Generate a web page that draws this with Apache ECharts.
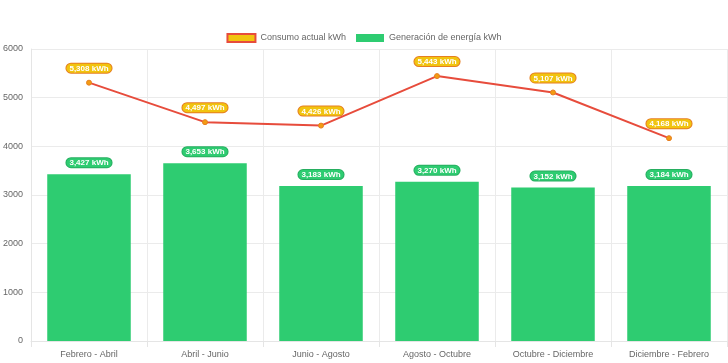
<!DOCTYPE html>
<html><head><meta charset="utf-8">
<script src="https://cdn.jsdelivr.net/npm/echarts@6/dist/echarts.min.js"></script>
<style>html,body{margin:0;padding:0;background:#fff}#c{width:728px;height:363px}</style>
</head><body><div id="c"></div>
<script>
const categories = ['Febrero - Abril','Abril - Junio','Junio - Agosto','Agosto - Octubre','Octubre - Diciembre','Diciembre - Febrero'];
const consumo = [5308, 4497, 4426, 5443, 5107, 4168];
const generacion = [3427, 3653, 3183, 3270, 3152, 3184];
const yTicks = [0, 1000, 2000, 3000, 4000, 5000, 6000];

const fmt = v => v.toLocaleString('en-US') + ' kWh';
const font = 'Liberation Sans, Arial, sans-serif';
const chart = echarts.init(document.getElementById('c'), null, {renderer:'canvas'});
chart.setOption({
  animation: false,
  textStyle: {fontFamily: font},
  legend: {
    top: 28, left: 'center', itemWidth: 28, itemHeight: 8, itemGap: 10,
    textStyle: {color: '#666', fontSize: 9, fontFamily: font},
    data: [
      {name: 'Consumo actual kWh', icon: 'rect', itemStyle: {color: '#f1c40f', borderColor: '#e74c3c', borderWidth: 2}},
      {name: 'Generación de energía kWh', icon: 'rect', itemStyle: {color: '#2ecc71'}}
    ]
  },
  grid: {left: 31, right: 1, top: 49, bottom: 22, containLabel: false, outerBoundsMode: 'none'},
  xAxis: {
    type: 'category', data: categories, boundaryGap: true,
    axisLine: {lineStyle: {color: '#e5e5e5'}},
    axisTick: {show: true, length: 6, interval: 0, lineStyle: {color: '#e5e5e5'}},
    splitLine: {show: true, interval: 0, lineStyle: {color: '#ebebeb'}},
    axisLabel: {color: '#666', fontSize: 9, margin: 9, interval: 0, fontFamily: font}
  },
  yAxis: {
    type: 'value', min: yTicks[0], max: yTicks[yTicks.length-1], interval: 1000,
    axisLine: {show: true, lineStyle: {color: '#e5e5e5'}},
    axisTick: {show: false},
    splitLine: {lineStyle: {color: '#ebebeb'}},
    axisLabel: {color: '#666', fontSize: 9, margin: 8, fontFamily: font, formatter: v => String(v)}
  },
  series: [
    {
      name: 'Generación de energía kWh', type: 'bar', data: generacion,
      barWidth: '72%', itemStyle: {color: '#2ecc71'}, z: 2,
      label: {
        show: true, position: 'top', distance: 7, formatter: p => fmt(p.value),
        color: '#fff', fontWeight: 'bold', fontSize: 8, fontFamily: font,
        backgroundColor: '#2ecc71', borderColor: '#27ae60', borderWidth: 1,
        borderRadius: 6, padding: [1, 3, 0, 3]
      }
    },
    {
      name: 'Consumo actual kWh', type: 'line', data: consumo, z: 5,
      lineStyle: {color: '#e74c3c', width: 2},
      itemStyle: {color: '#f39c12', borderColor: '#e67e22', borderWidth: 1},
      symbol: 'circle', symbolSize: 5,
      label: {
        show: true, position: 'top', distance: 7, formatter: p => fmt(p.value),
        color: '#fff', fontWeight: 'bold', fontSize: 8, fontFamily: font,
        backgroundColor: '#f1c40f', borderColor: '#e67e22', borderWidth: 1,
        borderRadius: 6, padding: [1, 3, 0, 3]
      }
    }
  ]
});
</script></body></html>
